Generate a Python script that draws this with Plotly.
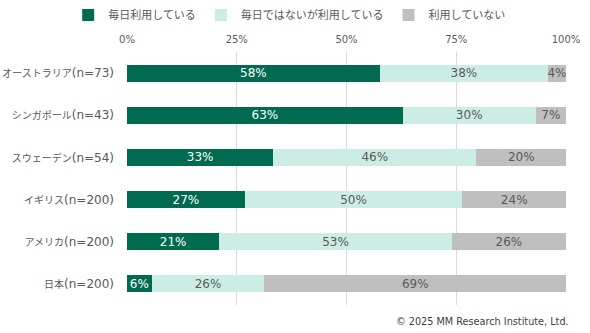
import plotly.graph_objects as go

# Survey: how often respondents use the service, by country (share of respondents, %)
country_names = ["オーストラリア", "シンガポール", "スウェーデン", "イギリス", "アメリカ", "日本"]
sample_sizes = [73, 43, 54, 200, 200, 200]
daily = [57.6, 62.8, 33.3, 26.8, 21.0, 5.6]
not_daily = [38.3, 30.3, 46.3, 49.6, 53.0, 25.7]
not_using = [4.1, 6.9, 20.4, 23.6, 26.0, 68.7]

series_names = ["毎日利用している", "毎日ではないが利用している", "利用していない"]
series_colors = ["#006B4F", "#CCEDE5", "#BFBFBF"]
label_colors = ["#FFFFFF", "#595959", "#595959"]
tick_vals = [0, 25, 50, 75, 100]
tick_text = ["0%", "25%", "50%", "75%", "100%"]

FONT = "DejaVu Sans, Noto Sans CJK JP, sans-serif"

countries = [f"{c}(n={n})" for c, n in zip(country_names, sample_sizes)]
# the Japanese part of each category label is set a little smaller than the Latin part
country_ticks = [f'<span style="font-size:10px">{c}</span>(n={n})'
                 for c, n in zip(country_names, sample_sizes)]

fig = go.Figure()
for name, vals, col, tcol in zip(series_names, [daily, not_daily, not_using],
                                 series_colors, label_colors):
    fig.add_trace(go.Bar(
        name=name,
        y=countries,
        x=vals,
        orientation="h",
        marker=dict(color=col, line=dict(width=0)),
        texttemplate="%{x:.0f}%",
        textposition="inside",
        insidetextanchor="middle",
        textfont=dict(family=FONT, size=12, color=tcol),
        hoverinfo="skip",
    ))

fig.update_layout(
    barmode="stack",
    bargap=0.6,
    width=590,
    height=333,
    margin=dict(l=127, r=24, t=52, b=28, autoexpand=False),
    paper_bgcolor="white",
    plot_bgcolor="white",
    font=dict(family=FONT, color="#595959"),
    uniformtext=dict(minsize=12, mode="show"),
    legend=dict(
        orientation="h",
        x=-0.134, xanchor="left",
        y=1.146, yanchor="middle",
        font=dict(family=FONT, size=11, color="#595959"),
        traceorder="normal",
        itemwidth=30,
    ),
    xaxis=dict(
        side="top",
        range=[0, 100],
        tickvals=tick_vals,
        ticktext=tick_text,
        showgrid=True,
        gridcolor="#D9D9D9",
        gridwidth=1,
        zeroline=False,
        showline=False,
        ticks="",
        ticklabelstandoff=6,
        tickfont=dict(family=FONT, size=10, color="#595959"),
        fixedrange=True,
        automargin=False,
    ),
    yaxis=dict(
        autorange="reversed",
        tickmode="array",
        tickvals=countries,
        ticktext=country_ticks,
        showgrid=False,
        showline=False,
        ticks="",
        ticklabelstandoff=12,
        tickfont=dict(family=FONT, size=12, color="#595959"),
        fixedrange=True,
        automargin=False,
    ),
    annotations=[dict(
        text="© 2025 MM Research Institute, Ltd.",
        xref="paper", yref="paper",
        x=1.012, y=-0.065,
        xanchor="right", yanchor="middle",
        showarrow=False,
        font=dict(family=FONT, size=9.7, color="#404040"),
    )],
)

fig.write_html("out.html")
